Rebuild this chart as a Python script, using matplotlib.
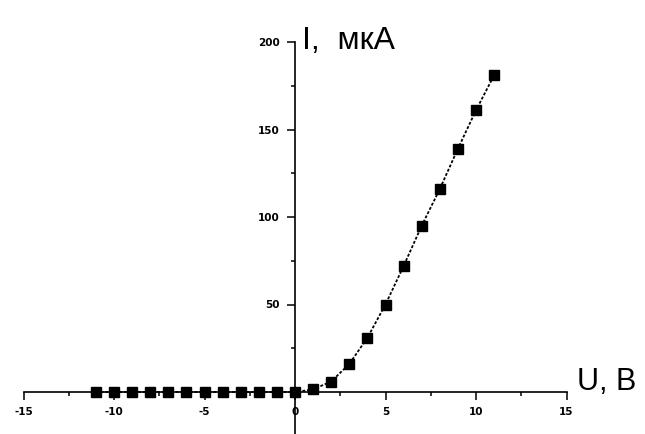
import numpy as np
import matplotlib.pyplot as plt
from matplotlib.ticker import MultipleLocator

# U, B  ->  I, мкА
voltage = [-11, -10, -9, -8, -7, -6, -5, -4, -3, -2, -1, 0,
           1, 2, 3, 4, 5, 6, 7, 8, 9, 10, 11]
current = [0, 0, 0, 0, 0, 0, 0, 0, 0, 0, 0, 0,
           1.5, 6, 16, 31, 50, 72, 95, 116, 139, 161, 181]

x_ticks = [-15, -10, -5, 0, 5, 10, 15]
y_ticks = [50, 100, 150, 200]


def main() -> None:
    fig = plt.figure(figsize=(6.45, 4.34), dpi=100)
    ax = fig.add_axes([23.5 / 645, 0.0, 543 / 645, 392 / 434])

    ax.plot(voltage, current, color="black", linestyle=(0, (1.6, 1.0)),
            linewidth=1.3, marker="s", markersize=7.5,
            markerfacecolor="black", markeredgecolor="black", clip_on=False)

    ax.set_xlim(-15, 15)
    ax.set_ylim(-24, 200)

    for side in ("top", "right"):
        ax.spines[side].set_visible(False)
    ax.spines["left"].set_position(("data", 0))
    ax.spines["bottom"].set_position(("data", 0))
    ax.spines["left"].set_bounds(-24, 200)
    ax.spines["bottom"].set_bounds(-15, 15)
    for side in ("left", "bottom"):
        ax.spines[side].set_linewidth(1.2)

    ax.set_xticks(x_ticks)
    ax.set_xticklabels([str(v) for v in x_ticks])
    ax.set_yticks(y_ticks)
    ax.set_yticklabels([str(v) for v in y_ticks])
    ax.xaxis.set_minor_locator(MultipleLocator(2.5))
    ax.yaxis.set_minor_locator(MultipleLocator(25))

    ax.tick_params(axis="both", which="major", direction="out", length=6,
                   width=1.1, labelsize=7.5, pad=5)
    ax.tick_params(axis="both", which="minor", direction="out", length=3,
                   width=1.1)
    for lab in ax.get_xticklabels() + ax.get_yticklabels():
        lab.set_fontweight("bold")

    # axis captions sit at the ends of the axes
    fig.text(302 / 645, 1 - 49 / 434, "I,  мкА", fontsize=23,
             family="Liberation Sans", ha="left", va="baseline")
    fig.text(577 / 645, 1 - 390 / 434, "U, B", fontsize=22,
             family="Liberation Sans", ha="left", va="baseline")

    fig.savefig("out.png", dpi=100)
    plt.close(fig)


if __name__ == "__main__":
    main()
